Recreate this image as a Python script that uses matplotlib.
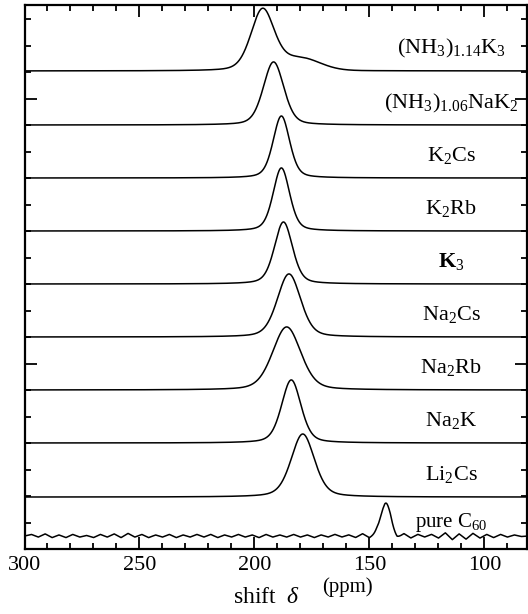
import numpy as np
import matplotlib
matplotlib.use('Agg')
import matplotlib.pyplot as plt
from matplotlib.ticker import MultipleLocator, FixedLocator, NullFormatter

plt.rcParams['font.family'] = ['Liberation Serif', 'DejaVu Serif']
plt.rcParams['mathtext.fontset'] = 'custom'
plt.rcParams['mathtext.rm'] = 'Liberation Serif'
plt.rcParams['mathtext.it'] = 'Liberation Serif:italic'
plt.rcParams['mathtext.bf'] = 'Liberation Serif:bold'

# ---- data ----
labels = [r'$\mathrm{(NH_3)_{1.14}K_3}$', r'$\mathrm{(NH_3)_{1.06}NaK_2}$',
          r'$\mathrm{K_2Cs}$', r'$\mathrm{K_2Rb}$', r'$\mathbf{K}_\mathrm{3}$',
          r'$\mathrm{Na_2Cs}$', r'$\mathrm{Na_2Rb}$', r'$\mathrm{Na_2K}$',
          r'$\mathrm{Li_2Cs}$', r'$\mathrm{pure\ C_{60}}$']
centers = [196.5, 191.7, 188.3, 188.3, 187.4, 185.0, 186.0, 184.0, 179.0, 143.0]   # ppm
fwhms = [12.0, 10.5, 8.5, 8.5, 9.3, 12.0, 14.5, 10.0, 12.0, 5.0]                  # ppm
heights = [1.15, 1.19, 1.17, 1.19, 1.17, 1.19, 1.19, 1.19, 1.19, 0.62]
lorentz_frac = [0.3, 0.3, 0.35, 0.35, 0.35, 0.3, 0.3, 0.35, 0.35, 0.1]
offsets = [9.02, 8.0, 7.0, 6.0, 5.0, 4.0, 3.0, 2.0, 0.98, 0.245]
# shoulder of (NH3)1.14K3
shoulder_center, shoulder_fwhm, shoulder_height = 180.0, 20.0, 0.22
# baseline ripple of pure C60, every 3 ppm from 300 down to 81
c60_ripple = [0.0, 0.03, -0.02, 0.04, -0.03, 0.02, -0.03, 0.03, -0.02, 0.01,
              -0.03, 0.03, -0.02, 0.04, -0.03, 0.05, -0.02, 0.03, -0.03, 0.02,
              -0.02, 0.03, -0.03, 0.02, -0.02, 0.03, -0.02, 0.03, -0.03, 0.02,
              -0.02, 0.03, -0.02, 0.02, -0.03, 0.03, -0.02, 0.02, -0.02, 0.03,
              -0.02, 0.02, -0.03, 0.02, -0.02, 0.03, -0.02, 0.02, -0.03, 0.04,
              -0.04, 0.03, -0.02, 0.04, -0.05, 0.04, -0.04, 0.03, -0.02, 0.03,
              -0.04, 0.06, -0.07, 0.04, -0.06, 0.05, -0.04, 0.03, -0.03, 0.03,
              -0.02, 0.02, -0.01, 0.0]
xticks_major = [300, 250, 200, 150, 100]

# ---- figure ----
W, H = 528, 614
fig = plt.figure(figsize=(W / 100, H / 100), dpi=100)
ax = fig.add_axes([24.5 / W, (H - 549) / H, (527 - 24.5) / W, 544 / H])

x = np.linspace(300, 81.5, 2000)


def pvoigt(xx, c, w, h, eta):
    d = (xx - c) / (w / 2.0)
    L = 1.0 / (1.0 + d ** 2)
    G = np.exp(-np.log(2) * d ** 2)
    return h * (eta * L + (1 - eta) * G)


ripple_x = 300 - 3 * np.arange(len(c60_ripple))
for i in range(len(labels)):
    y = offsets[i] + pvoigt(x, centers[i], fwhms[i], heights[i], lorentz_frac[i])
    if i == 0:
        y = y + pvoigt(x, shoulder_center, shoulder_fwhm, shoulder_height, 0.0)
    if i == 9:
        y = y + np.interp(x, ripple_x[::-1], np.array(c60_ripple)[::-1])
    ax.plot(x, y, color='black', lw=1.1)
    fs = 15 if i == 9 else 16
    dy = 0.17 if i == 9 else 0.32
    ax.text(114.5, offsets[i] + dy, labels[i], ha='center', va='baseline',
            fontsize=fs)

ax.set_xlim(300, 81.5)
ax.set_ylim(0, 544 / 53)

ax.xaxis.set_major_locator(FixedLocator(xticks_major))
ax.xaxis.set_minor_locator(MultipleLocator(10))
ax.yaxis.set_major_locator(FixedLocator([3.5, 8.5]))
ax.yaxis.set_minor_locator(MultipleLocator(0.5))
ax.yaxis.set_major_formatter(NullFormatter())
ax.tick_params(axis='both', which='both', direction='in', top=True, right=True,
               width=1.3, colors='black')
ax.tick_params(axis='both', which='major', length=8.5)
ax.tick_params(axis='both', which='minor', length=4)
ax.tick_params(axis='x', which='major', labelsize=16, pad=5)
for s in ax.spines.values():
    s.set_linewidth(1.6)

fig.text(233 / W, (H - 603) / H, r'shift  $\delta$', fontsize=17,
         ha='left', va='baseline')
fig.text(322 / W, (H - 592) / H, '(ppm)', fontsize=15, ha='left',
         va='baseline')

fig.savefig('out.png', dpi=100)
